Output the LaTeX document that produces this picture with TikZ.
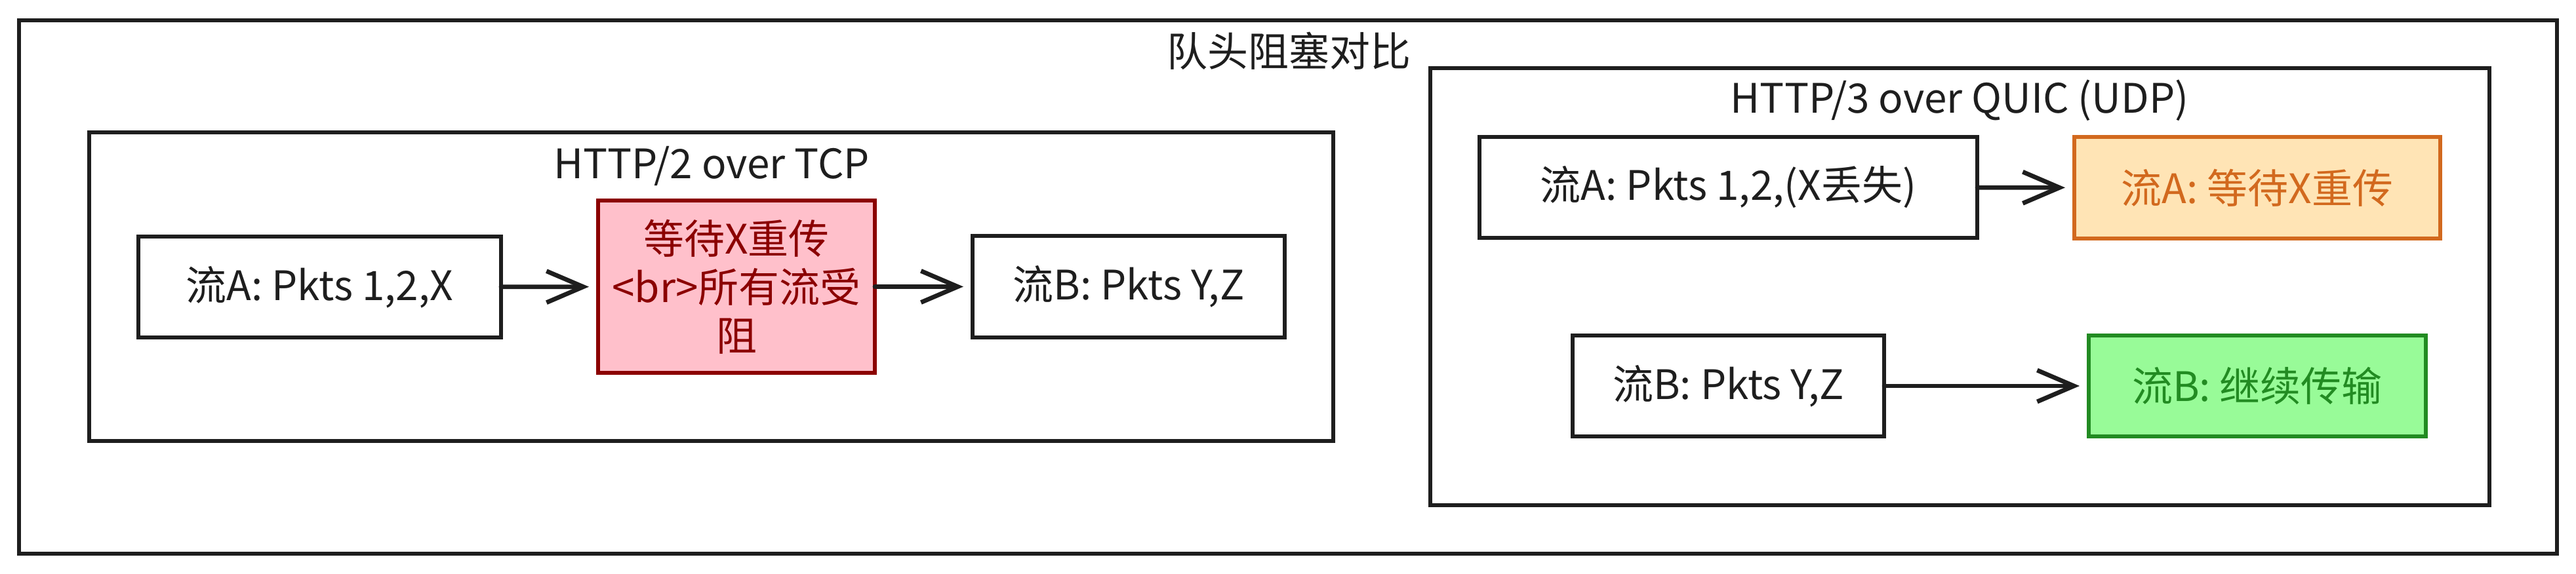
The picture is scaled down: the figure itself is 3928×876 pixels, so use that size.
\documentclass[tikz,border=0pt]{standalone}
\usepackage{fontspec}
\setmainfont{Noto Sans CJK SC}
\usetikzlibrary{arrows.meta}
\definecolor{ink}{HTML}{1E1E1E}
\definecolor{redfill}{HTML}{FFC0CB}
\definecolor{redline}{HTML}{8B0000}
\definecolor{orfill}{HTML}{FFE4B5}
\definecolor{orline}{HTML}{D2691E}
\definecolor{grfill}{HTML}{98FB98}
\definecolor{grline}{HTML}{228B22}
\begin{document}
\begin{tikzpicture}[x=0.25pt,y=-0.25pt,
  every node/.style={font=\fontsize{15.5pt}{18.5pt}\selectfont, text=ink},
  frame/.style={draw=ink, line width=1.3pt},
  box/.style={draw=ink, fill=white, line width=1.4pt, inner sep=0pt, outer sep=0pt, align=center},
  flow/.style={draw=ink, line width=1.7pt, line cap=round, -{Straight Barb[length=14pt,width=12pt,line width=1.7pt]}, shorten >=3.5pt},
  lbl/.style={inner sep=0pt, anchor=center}
]
\useasboundingbox (0,0) rectangle (3928,876);
\fill[white] (0,0) rectangle (3928,876);

% frames
\draw[frame] (29,31) rectangle (3899,845);
\draw[frame] (136,202) rectangle (2033,673);
\draw[frame] (2181,104) rectangle (3796,771);

% labels
\node[lbl] (title) at (1965,78) {队头阻塞对比};
\node[lbl] (lblh2) at (1085,253) {HTTP/2 over TCP};
\node[lbl] (lblh3) at (2988,153) {HTTP/3 over QUIC (UDP)};

% HTTP/2 nodes
\node[box, minimum width=138.25pt, minimum height=38.5pt] (a) at (487.5,438) {流A: Pkts 1,2,X};
\node[box, fill=redfill, draw=redline, text=redline, minimum width=105.5pt, minimum height=65.75pt] (blk) at (1123,437.5) {等待X重传\\<br>所有流受\\阻};
\node[box, minimum width=119pt, minimum height=38.75pt] (b) at (1721,437.5) {流B: Pkts Y,Z};

% HTTP/3 nodes
\node[box, minimum width=189.75pt, minimum height=38.5pt] (a3) at (2635.5,286) {流A: Pkts 1,2,(X丢失)};
\node[box, fill=orfill, draw=orline, text=orline, minimum width=139.5pt, minimum height=38.75pt] (wait) at (3442,286.5) {流A: 等待X重传};
\node[box, minimum width=118.75pt, minimum height=38.5pt] (b3) at (2635.5,589) {流B: Pkts Y,Z};
\node[box, fill=grfill, draw=grline, text=grline, minimum width=128.5pt, minimum height=38.5pt] (cont) at (3442,589) {流B: 继续传输};

% connectors
\draw[flow] (a) -- (blk);
\draw[flow] (blk) -- (b);
\draw[flow] (a3) -- (wait);
\draw[flow] (b3) -- (cont);
\end{tikzpicture}
\end{document}
